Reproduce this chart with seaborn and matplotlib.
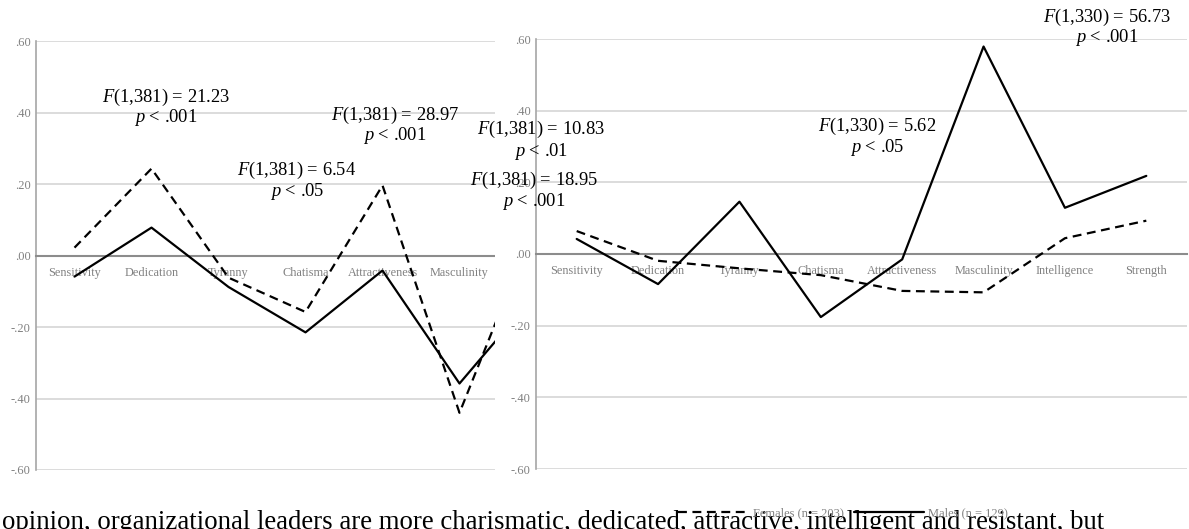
import matplotlib
matplotlib.use("Agg")
import matplotlib.pyplot as plt
import seaborn as sns
import pandas as pd
from matplotlib.patches import Rectangle

# ---------------- data ----------------
categories = ["Sensitivity", "Dedication", "Tyranny", "Chatisma",
              "Attractiveness", "Masculinity", "Intelligence", "Strength"]
left_females = [0.022, 0.243, -0.062, -0.158, 0.196, -0.440, 0.097, 0.060]
left_males = [-0.059, 0.078, -0.088, -0.215, -0.042, -0.358, -0.105, -0.050]
right_females = [0.064, -0.019, -0.040, -0.059, -0.103, -0.107, 0.044, 0.093]
right_males = [0.042, -0.084, 0.146, -0.176, -0.015, 0.579, 0.129, 0.218]
y_ticks = [-0.6, -0.4, -0.2, 0.0, 0.2, 0.4, 0.6]
y_tick_labels = ["-.60", "-.40", "-.20", ".00", ".20", ".40", ".60"]
legend_labels = ["Females (n = 203)", "Males (n = 129)"]
notes = [
    ("$F$(1,381) = 21.23", "$p$ < .001"),
    ("$F$(1,381) = 6.54", "$p$ < .05"),
    ("$F$(1,381) = 28.97", "$p$ < .001"),
    ("$F$(1,381) = 10.83", "$p$ < .01"),
    ("$F$(1,381) = 18.95", "$p$ < .001"),
    ("$F$(1,330) = 5.62", "$p$ < .05"),
    ("$F$(1,330) = 56.73", "$p$ < .001"),
]
caption = ("opinion, organizational leaders are more charismatic, dedicated, "
           "attractive, intelligent and resistant, but")

# ---------------- style ----------------
sns.set_style("white")
plt.rcParams["font.family"] = ["Liberation Serif", "DejaVu Serif"]
plt.rcParams["mathtext.fontset"] = "custom"
plt.rcParams["mathtext.it"] = "Liberation Serif:italic"
plt.rcParams["mathtext.rm"] = "Liberation Serif"

W, H = 1189, 529
fig = plt.figure(figsize=(W / 100, H / 100), dpi=100)
fig.patch.set_facecolor("white")


def fx(px):
    return px / W


def fy(py):
    return 1 - py / H


GRAY = "#808080"


def draw_panel(ax, fem, mal):
    df = pd.DataFrame({
        "Trait": categories * 2,
        "Score": list(fem) + list(mal),
        "Group": ["Females"] * len(categories) + ["Males"] * len(categories),
    })
    sns.lineplot(data=df, x="Trait", y="Score", style="Group",
                 dashes={"Females": (4, 2.5), "Males": ""},
                 color="black", lw=1.6, ax=ax, sort=False,
                 estimator=None, legend=False, zorder=3)
    ax.set_xlim(-0.5, len(categories) - 0.5)
    ax.set_ylim(-0.6, 0.6)
    ax.set_yticks(y_ticks)
    ax.set_yticklabels(y_tick_labels)
    ax.set_xticks(range(len(categories)))
    ax.set_xticklabels(categories)
    ax.set_xlabel("")
    ax.set_ylabel("")
    ax.yaxis.grid(True, color="#d9d9d9", lw=1.3)
    ax.xaxis.grid(False)
    ax.set_axisbelow(True)
    for s in ("top", "right"):
        ax.spines[s].set_visible(False)
    ax.spines["bottom"].set_position(("data", 0))
    ax.spines["bottom"].set_color("#8c8c8c")
    ax.spines["bottom"].set_linewidth(1.5)
    ax.spines["left"].set_color("#a6a6a6")
    ax.spines["left"].set_linewidth(1.2)
    ax.tick_params(axis="x", length=0, pad=8, labelsize=8.8, labelcolor=GRAY)
    ax.tick_params(axis="y", length=0, pad=4, labelsize=9, labelcolor=GRAY)
    ax.set_facecolor("white")


# left panel (partly hidden behind the right one)
axL = fig.add_axes([fx(36), fy(470), 616 / W, 429 / H])
axL.set_zorder(0)
draw_panel(axL, left_females, left_males)

# white cover between panels
fig.add_artist(Rectangle((fx(495), fy(500)), 1 - fx(495), 500 / H,
                         transform=fig.transFigure, facecolor="white",
                         edgecolor="none", zorder=1))

# caption line at bottom (clipped), under the right panel's legend
cap = fig.text(fx(2), fy(529), caption, ha="left", va="baseline",
               fontsize=16, color="black", zorder=1.5)
fig.canvas.draw()
bb = cap.get_window_extent()
cap.set_fontsize(16 * 1103 / bb.width)

# right panel
axR = fig.add_axes([fx(536), fy(469), 651 / W, 430 / H])
axR.set_zorder(2)
axR.patch.set_visible(True)
draw_panel(axR, right_females, right_males)

leg = axR.legend(handles=axR.lines[:2], labels=legend_labels,
                 loc="center", bbox_to_anchor=(fx(843), fy(513)),
                 bbox_transform=fig.transFigure, ncol=2, frameon=False,
                 fontsize=9, handlelength=5.6, handletextpad=0.4,
                 columnspacing=0.8, borderpad=0)
for t in leg.get_texts():
    t.set_color(GRAY)

# annotations (figure-level, on top)
note_pos = [(166, 97, 118), (297, 170, 192), (395, 115, 136),
            (541, 129, 151), (534, 180, 202), (877, 126, 147),
            (1107, 17, 38)]
for (l1, l2), (x, y1, y2) in zip(notes, note_pos):
    fig.text(fx(x), fy(y1), l1, ha="center", va="center", fontsize=13.3,
             color="black", zorder=5)
    fig.text(fx(x), fy(y2), l2, ha="center", va="center", fontsize=13.3,
             color="black", zorder=5)

fig.savefig("out.png", dpi=100, facecolor="white")
